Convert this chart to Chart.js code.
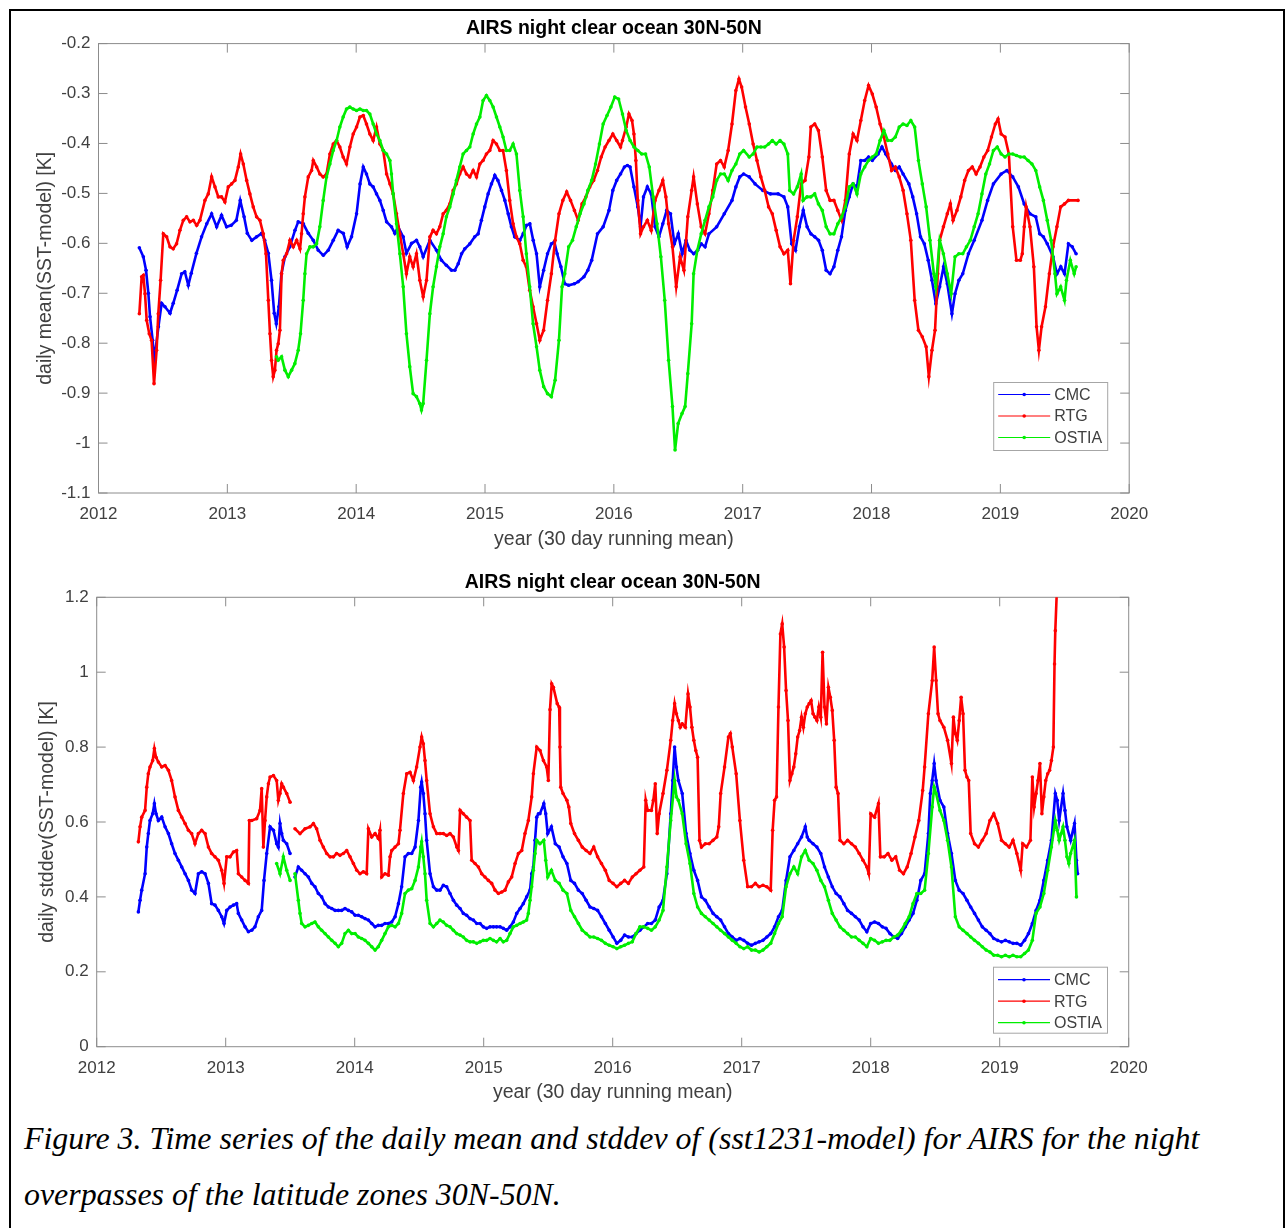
<!DOCTYPE html>
<html lang="en">
<head>
<meta charset="UTF-8">
<title>AIRS night clear ocean 30N-50N</title>
<script src="https://cdn.jsdelivr.net/npm/chart.js"></script>
<style>
  body { margin: 0; background: #fff; width: 1285px; height: 1228px; overflow: hidden; position: relative; }
  .frame { position: absolute; left: 9px; top: 9px; width: 1276px; height: 1300px; border: 2px solid #000; box-sizing: border-box; }
  canvas { position: absolute; left: 0; }
  #caption {
    position: absolute; left: 24px; top: 1111px;
    font-family: 'Liberation Serif', 'Times New Roman', serif; font-style: italic;
    font-size: 31.9px; line-height: 56px; color: #000; white-space: nowrap;
  }
</style>
</head>
<body>
<div class="frame"></div>
<canvas id="meanChart" width="1285" height="556" style="top:0"></canvas>
<canvas id="stdChart" width="1285" height="552" style="top:556px"></canvas>
<div id="caption">Figure 3. Time series of the daily mean and stddev of (sst1231-model) for AIRS for the night<br>overpasses of the latitude zones 30N-50N.</div>

<script>
// tick values
const yearTicks = [2012, 2013, 2014, 2015, 2016, 2017, 2018, 2019, 2020];
const meanTicks = [-1.1, -1, -0.9, -0.8, -0.7, -0.6, -0.5, -0.4, -0.3, -0.2];
const stdTicks = [0, 0.2, 0.4, 0.6, 0.8, 1, 1.2];

// daily mean (SST-model), [year, K]
const meanCmc = [[2012.317,-0.609],[2012.348,-0.627],[2012.369,-0.654],[2012.387,-0.70],[2012.40,-0.747],[2012.42,-0.794],[2012.433,-0.834],[2012.465,-0.767],[2012.49,-0.72],[2012.516,-0.727],[2012.555,-0.74],[2012.58,-0.72],[2012.61,-0.694],[2012.645,-0.661],[2012.67,-0.657],[2012.697,-0.684],[2012.72,-0.66],[2012.76,-0.62],[2012.80,-0.587],[2012.84,-0.561],[2012.878,-0.541],[2012.917,-0.567],[2012.955,-0.544],[2012.994,-0.567],[2013.03,-0.564],[2013.07,-0.554],[2013.10,-0.514],[2013.13,-0.547],[2013.155,-0.58],[2013.19,-0.594],[2013.227,-0.587],[2013.266,-0.58],[2013.29,-0.594],[2013.318,-0.62],[2013.343,-0.674],[2013.364,-0.74],[2013.38,-0.761],[2013.40,-0.727],[2013.42,-0.661],[2013.447,-0.627],[2013.485,-0.607],[2013.525,-0.574],[2013.55,-0.557],[2013.59,-0.561],[2013.628,-0.58],[2013.667,-0.594],[2013.706,-0.614],[2013.745,-0.624],[2013.783,-0.614],[2013.822,-0.594],[2013.86,-0.574],[2013.90,-0.58],[2013.93,-0.607],[2013.964,-0.587],[2014.003,-0.541],[2014.03,-0.481],[2014.055,-0.447],[2014.08,-0.461],[2014.106,-0.481],[2014.132,-0.487],[2014.158,-0.501],[2014.184,-0.514],[2014.21,-0.534],[2014.236,-0.557],[2014.274,-0.567],[2014.30,-0.58],[2014.326,-0.567],[2014.365,-0.587],[2014.39,-0.62],[2014.43,-0.60],[2014.468,-0.594],[2014.494,-0.607],[2014.52,-0.627],[2014.572,-0.594],[2014.624,-0.614],[2014.662,-0.634],[2014.70,-0.644],[2014.74,-0.654],[2014.766,-0.654],[2014.792,-0.641],[2014.818,-0.621],[2014.843,-0.611],[2014.882,-0.601],[2014.92,-0.587],[2014.947,-0.581],[2014.972,-0.554],[2014.998,-0.527],[2015.024,-0.501],[2015.05,-0.481],[2015.076,-0.464],[2015.10,-0.474],[2015.128,-0.494],[2015.154,-0.514],[2015.18,-0.541],[2015.205,-0.567],[2015.23,-0.587],[2015.27,-0.594],[2015.296,-0.581],[2015.322,-0.564],[2015.348,-0.561],[2015.374,-0.594],[2015.40,-0.621],[2015.425,-0.687],[2015.455,-0.654],[2015.485,-0.621],[2015.515,-0.601],[2015.538,-0.597],[2015.56,-0.621],[2015.589,-0.647],[2015.619,-0.681],[2015.649,-0.684],[2015.694,-0.681],[2015.723,-0.677],[2015.768,-0.667],[2015.798,-0.654],[2015.828,-0.634],[2015.873,-0.581],[2015.917,-0.567],[2015.962,-0.534],[2015.992,-0.494],[2016.022,-0.474],[2016.052,-0.461],[2016.082,-0.447],[2016.105,-0.444],[2016.126,-0.447],[2016.156,-0.487],[2016.186,-0.527],[2016.207,-0.567],[2016.23,-0.507],[2016.26,-0.487],[2016.29,-0.501],[2016.32,-0.567],[2016.35,-0.587],[2016.38,-0.561],[2016.41,-0.534],[2016.44,-0.541],[2016.47,-0.601],[2016.50,-0.581],[2016.53,-0.621],[2016.56,-0.594],[2016.59,-0.614],[2016.62,-0.621],[2016.65,-0.614],[2016.678,-0.601],[2016.708,-0.607],[2016.738,-0.581],[2016.798,-0.567],[2016.857,-0.541],[2016.917,-0.514],[2016.947,-0.487],[2016.977,-0.467],[2017.007,-0.461],[2017.051,-0.467],[2017.096,-0.481],[2017.156,-0.494],[2017.215,-0.501],[2017.275,-0.501],[2017.32,-0.507],[2017.35,-0.527],[2017.38,-0.601],[2017.41,-0.614],[2017.44,-0.567],[2017.47,-0.534],[2017.50,-0.567],[2017.529,-0.581],[2017.559,-0.587],[2017.589,-0.594],[2017.618,-0.614],[2017.648,-0.654],[2017.678,-0.661],[2017.708,-0.647],[2017.738,-0.614],[2017.767,-0.587],[2017.797,-0.534],[2017.827,-0.507],[2017.857,-0.481],[2017.887,-0.487],[2017.917,-0.434],[2017.947,-0.434],[2017.977,-0.427],[2018.006,-0.434],[2018.051,-0.421],[2018.081,-0.407],[2018.11,-0.421],[2018.155,-0.441],[2018.185,-0.454],[2018.215,-0.447],[2018.245,-0.461],[2018.29,-0.481],[2018.32,-0.507],[2018.35,-0.541],[2018.38,-0.587],[2018.41,-0.601],[2018.44,-0.634],[2018.469,-0.674],[2018.499,-0.721],[2018.529,-0.687],[2018.559,-0.647],[2018.588,-0.681],[2018.624,-0.741],[2018.648,-0.701],[2018.678,-0.674],[2018.708,-0.661],[2018.752,-0.621],[2018.797,-0.594],[2018.857,-0.554],[2018.901,-0.514],[2018.946,-0.481],[2019.006,-0.461],[2019.051,-0.454],[2019.096,-0.467],[2019.14,-0.487],[2019.185,-0.521],[2019.23,-0.541],[2019.275,-0.547],[2019.305,-0.581],[2019.334,-0.587],[2019.364,-0.601],[2019.409,-0.627],[2019.439,-0.661],[2019.469,-0.647],[2019.498,-0.661],[2019.528,-0.601],[2019.558,-0.607],[2019.588,-0.621]];

const meanRtg = [[2012.317,-0.741],[2012.335,-0.667],[2012.348,-0.664],[2012.361,-0.701],[2012.374,-0.754],[2012.394,-0.781],[2012.412,-0.794],[2012.431,-0.881],[2012.451,-0.814],[2012.464,-0.741],[2012.482,-0.674],[2012.503,-0.581],[2012.529,-0.587],[2012.555,-0.607],[2012.58,-0.611],[2012.606,-0.601],[2012.632,-0.574],[2012.658,-0.554],[2012.684,-0.547],[2012.71,-0.557],[2012.736,-0.554],[2012.762,-0.564],[2012.787,-0.554],[2012.826,-0.514],[2012.852,-0.501],[2012.878,-0.467],[2012.904,-0.487],[2012.93,-0.507],[2012.955,-0.507],[2012.981,-0.517],[2013.007,-0.487],[2013.033,-0.481],[2013.059,-0.474],[2013.085,-0.447],[2013.103,-0.421],[2013.124,-0.441],[2013.15,-0.474],[2013.175,-0.501],[2013.201,-0.527],[2013.227,-0.547],[2013.253,-0.554],[2013.279,-0.581],[2013.30,-0.621],[2013.318,-0.714],[2013.331,-0.781],[2013.343,-0.834],[2013.356,-0.867],[2013.369,-0.854],[2013.382,-0.814],[2013.395,-0.801],[2013.408,-0.774],[2013.421,-0.661],[2013.434,-0.634],[2013.46,-0.621],[2013.486,-0.594],[2013.512,-0.607],[2013.538,-0.594],[2013.564,-0.611],[2013.576,-0.581],[2013.589,-0.541],[2013.602,-0.507],[2013.628,-0.467],[2013.654,-0.454],[2013.667,-0.434],[2013.693,-0.447],[2013.718,-0.461],[2013.744,-0.467],[2013.77,-0.461],[2013.796,-0.421],[2013.822,-0.401],[2013.848,-0.394],[2013.873,-0.407],[2013.899,-0.427],[2013.925,-0.441],[2013.951,-0.407],[2013.977,-0.381],[2014.003,-0.367],[2014.029,-0.347],[2014.055,-0.344],[2014.08,-0.361],[2014.106,-0.381],[2014.132,-0.394],[2014.158,-0.367],[2014.184,-0.401],[2014.21,-0.414],[2014.236,-0.461],[2014.262,-0.481],[2014.287,-0.501],[2014.313,-0.541],[2014.339,-0.581],[2014.365,-0.621],[2014.39,-0.661],[2014.416,-0.627],[2014.442,-0.647],[2014.468,-0.621],[2014.494,-0.674],[2014.52,-0.707],[2014.546,-0.674],[2014.572,-0.587],[2014.597,-0.574],[2014.623,-0.581],[2014.649,-0.567],[2014.675,-0.541],[2014.70,-0.534],[2014.727,-0.521],[2014.753,-0.494],[2014.778,-0.481],[2014.804,-0.461],[2014.83,-0.447],[2014.856,-0.461],[2014.882,-0.467],[2014.908,-0.454],[2014.934,-0.467],[2014.96,-0.441],[2014.985,-0.434],[2015.011,-0.421],[2015.037,-0.414],[2015.063,-0.394],[2015.089,-0.401],[2015.115,-0.414],[2015.14,-0.414],[2015.166,-0.454],[2015.192,-0.514],[2015.218,-0.561],[2015.244,-0.587],[2015.27,-0.601],[2015.296,-0.634],[2015.321,-0.647],[2015.347,-0.694],[2015.373,-0.727],[2015.40,-0.761],[2015.425,-0.794],[2015.455,-0.774],[2015.485,-0.714],[2015.515,-0.661],[2015.544,-0.594],[2015.574,-0.541],[2015.604,-0.514],[2015.634,-0.497],[2015.664,-0.514],[2015.694,-0.534],[2015.723,-0.554],[2015.753,-0.521],[2015.783,-0.507],[2015.813,-0.487],[2015.843,-0.474],[2015.873,-0.454],[2015.902,-0.427],[2015.932,-0.407],[2015.962,-0.394],[2015.992,-0.381],[2016.022,-0.394],[2016.052,-0.407],[2016.067,-0.394],[2016.096,-0.367],[2016.117,-0.341],[2016.141,-0.354],[2016.156,-0.381],[2016.171,-0.434],[2016.186,-0.514],[2016.207,-0.581],[2016.23,-0.567],[2016.26,-0.554],[2016.29,-0.574],[2016.32,-0.514],[2016.35,-0.494],[2016.38,-0.474],[2016.404,-0.507],[2016.425,-0.561],[2016.455,-0.607],[2016.484,-0.687],[2016.514,-0.627],[2016.544,-0.654],[2016.574,-0.547],[2016.604,-0.494],[2016.619,-0.467],[2016.648,-0.521],[2016.678,-0.567],[2016.708,-0.581],[2016.738,-0.541],[2016.768,-0.494],[2016.798,-0.441],[2016.828,-0.434],[2016.857,-0.447],[2016.887,-0.414],[2016.917,-0.361],[2016.947,-0.294],[2016.971,-0.271],[2016.992,-0.287],[2017.022,-0.327],[2017.051,-0.361],[2017.081,-0.401],[2017.111,-0.434],[2017.141,-0.467],[2017.171,-0.494],[2017.201,-0.527],[2017.23,-0.541],[2017.26,-0.574],[2017.29,-0.607],[2017.32,-0.621],[2017.35,-0.614],[2017.371,-0.681],[2017.395,-0.594],[2017.424,-0.547],[2017.454,-0.481],[2017.484,-0.474],[2017.514,-0.427],[2017.529,-0.367],[2017.559,-0.361],[2017.588,-0.374],[2017.618,-0.427],[2017.648,-0.494],[2017.678,-0.514],[2017.708,-0.514],[2017.738,-0.534],[2017.768,-0.554],[2017.797,-0.514],[2017.827,-0.421],[2017.857,-0.381],[2017.887,-0.394],[2017.917,-0.354],[2017.947,-0.314],[2017.977,-0.284],[2018.006,-0.301],[2018.036,-0.327],[2018.066,-0.361],[2018.096,-0.387],[2018.126,-0.421],[2018.156,-0.454],[2018.185,-0.447],[2018.215,-0.467],[2018.245,-0.494],[2018.275,-0.541],[2018.305,-0.594],[2018.335,-0.714],[2018.364,-0.774],[2018.394,-0.787],[2018.424,-0.807],[2018.445,-0.867],[2018.469,-0.814],[2018.493,-0.774],[2018.514,-0.661],[2018.529,-0.594],[2018.558,-0.567],[2018.588,-0.541],[2018.612,-0.521],[2018.633,-0.554],[2018.663,-0.534],[2018.693,-0.507],[2018.723,-0.474],[2018.752,-0.454],[2018.782,-0.447],[2018.812,-0.461],[2018.842,-0.447],[2018.872,-0.427],[2018.902,-0.414],[2018.931,-0.387],[2018.961,-0.361],[2018.982,-0.351],[2019.006,-0.381],[2019.036,-0.387],[2019.066,-0.421],[2019.096,-0.567],[2019.125,-0.634],[2019.155,-0.634],[2019.17,-0.621],[2019.185,-0.567],[2019.20,-0.527],[2019.23,-0.567],[2019.26,-0.647],[2019.281,-0.767],[2019.299,-0.814],[2019.32,-0.767],[2019.35,-0.727],[2019.38,-0.661],[2019.409,-0.607],[2019.439,-0.567],[2019.468,-0.527],[2019.498,-0.521],[2019.528,-0.514],[2019.603,-0.514]];

const meanOstia = [[2013.382,-0.827],[2013.395,-0.834],[2013.421,-0.827],[2013.447,-0.854],[2013.473,-0.867],[2013.499,-0.854],[2013.524,-0.841],[2013.55,-0.814],[2013.568,-0.781],[2013.589,-0.714],[2013.602,-0.661],[2013.615,-0.621],[2013.641,-0.607],[2013.667,-0.607],[2013.693,-0.601],[2013.718,-0.567],[2013.744,-0.514],[2013.77,-0.467],[2013.796,-0.441],[2013.822,-0.414],[2013.848,-0.394],[2013.873,-0.367],[2013.899,-0.347],[2013.925,-0.331],[2013.951,-0.327],[2013.977,-0.331],[2014.003,-0.334],[2014.029,-0.331],[2014.055,-0.334],[2014.08,-0.334],[2014.106,-0.341],[2014.132,-0.361],[2014.158,-0.381],[2014.184,-0.394],[2014.21,-0.414],[2014.236,-0.421],[2014.262,-0.434],[2014.274,-0.461],[2014.287,-0.501],[2014.313,-0.561],[2014.339,-0.621],[2014.365,-0.687],[2014.39,-0.781],[2014.416,-0.847],[2014.442,-0.901],[2014.468,-0.907],[2014.494,-0.921],[2014.507,-0.934],[2014.52,-0.921],[2014.546,-0.834],[2014.572,-0.741],[2014.597,-0.687],[2014.623,-0.647],[2014.649,-0.607],[2014.675,-0.581],[2014.70,-0.547],[2014.727,-0.527],[2014.753,-0.501],[2014.778,-0.474],[2014.804,-0.447],[2014.83,-0.421],[2014.856,-0.414],[2014.882,-0.407],[2014.908,-0.381],[2014.934,-0.361],[2014.96,-0.347],[2014.985,-0.314],[2015.011,-0.304],[2015.037,-0.314],[2015.063,-0.327],[2015.089,-0.347],[2015.115,-0.367],[2015.14,-0.387],[2015.166,-0.414],[2015.192,-0.414],[2015.218,-0.401],[2015.244,-0.421],[2015.27,-0.494],[2015.296,-0.547],[2015.321,-0.621],[2015.347,-0.687],[2015.373,-0.761],[2015.40,-0.807],[2015.425,-0.854],[2015.455,-0.887],[2015.485,-0.901],[2015.515,-0.907],[2015.544,-0.874],[2015.574,-0.794],[2015.598,-0.687],[2015.619,-0.661],[2015.649,-0.607],[2015.679,-0.594],[2015.708,-0.567],[2015.738,-0.541],[2015.768,-0.521],[2015.798,-0.494],[2015.828,-0.474],[2015.858,-0.441],[2015.888,-0.401],[2015.917,-0.361],[2015.947,-0.344],[2015.977,-0.327],[2016.007,-0.307],[2016.037,-0.311],[2016.067,-0.341],[2016.096,-0.374],[2016.126,-0.394],[2016.156,-0.407],[2016.186,-0.414],[2016.216,-0.421],[2016.246,-0.421],[2016.275,-0.447],[2016.305,-0.507],[2016.335,-0.561],[2016.365,-0.627],[2016.395,-0.714],[2016.425,-0.834],[2016.455,-0.927],[2016.475,-1.014],[2016.499,-0.961],[2016.529,-0.941],[2016.553,-0.927],[2016.574,-0.861],[2016.604,-0.761],[2016.619,-0.661],[2016.648,-0.614],[2016.678,-0.581],[2016.708,-0.554],[2016.738,-0.527],[2016.768,-0.507],[2016.798,-0.474],[2016.828,-0.461],[2016.857,-0.461],[2016.887,-0.474],[2016.917,-0.454],[2016.947,-0.441],[2016.977,-0.421],[2017.007,-0.414],[2017.051,-0.427],[2017.081,-0.421],[2017.111,-0.407],[2017.141,-0.407],[2017.171,-0.407],[2017.201,-0.401],[2017.23,-0.394],[2017.26,-0.401],[2017.29,-0.394],[2017.32,-0.401],[2017.35,-0.421],[2017.365,-0.494],[2017.395,-0.501],[2017.424,-0.487],[2017.454,-0.461],[2017.469,-0.514],[2017.499,-0.507],[2017.529,-0.507],[2017.559,-0.501],[2017.588,-0.521],[2017.618,-0.534],[2017.648,-0.567],[2017.678,-0.581],[2017.708,-0.581],[2017.738,-0.561],[2017.768,-0.547],[2017.797,-0.527],[2017.827,-0.487],[2017.857,-0.481],[2017.887,-0.501],[2017.917,-0.461],[2017.947,-0.447],[2017.977,-0.434],[2018.006,-0.427],[2018.036,-0.421],[2018.066,-0.394],[2018.096,-0.374],[2018.126,-0.394],[2018.156,-0.394],[2018.185,-0.387],[2018.215,-0.367],[2018.245,-0.361],[2018.275,-0.364],[2018.305,-0.354],[2018.335,-0.367],[2018.364,-0.434],[2018.394,-0.481],[2018.424,-0.527],[2018.454,-0.594],[2018.484,-0.661],[2018.499,-0.687],[2018.529,-0.594],[2018.558,-0.621],[2018.588,-0.661],[2018.618,-0.701],[2018.648,-0.627],[2018.678,-0.621],[2018.708,-0.621],[2018.737,-0.607],[2018.767,-0.594],[2018.797,-0.567],[2018.827,-0.541],[2018.857,-0.501],[2018.887,-0.461],[2018.916,-0.441],[2018.946,-0.414],[2018.976,-0.407],[2019.006,-0.421],[2019.036,-0.427],[2019.066,-0.421],[2019.096,-0.421],[2019.125,-0.424],[2019.155,-0.427],[2019.185,-0.427],[2019.215,-0.434],[2019.245,-0.441],[2019.275,-0.454],[2019.305,-0.487],[2019.334,-0.514],[2019.364,-0.554],[2019.394,-0.594],[2019.424,-0.661],[2019.439,-0.701],[2019.468,-0.687],[2019.498,-0.714],[2019.513,-0.674],[2019.543,-0.634],[2019.573,-0.661],[2019.588,-0.647]];

// daily stddev (SST-model), [year, K]; null marks the data gap
const stdCmc = [[2012.323,0.36],[2012.336,0.391],[2012.349,0.418],[2012.375,0.462],[2012.388,0.533],[2012.40,0.569],[2012.413,0.604],[2012.434,0.622],[2012.447,0.649],[2012.46,0.622],[2012.478,0.604],[2012.504,0.613],[2012.53,0.587],[2012.556,0.569],[2012.581,0.542],[2012.607,0.516],[2012.633,0.498],[2012.659,0.48],[2012.685,0.462],[2012.711,0.444],[2012.736,0.418],[2012.762,0.409],[2012.788,0.462],[2012.814,0.467],[2012.84,0.462],[2012.866,0.436],[2012.891,0.382],[2012.917,0.378],[2012.943,0.364],[2012.969,0.347],[2012.987,0.329],[2013.008,0.364],[2013.034,0.373],[2013.06,0.378],[2013.085,0.382],[2013.098,0.356],[2013.124,0.338],[2013.15,0.32],[2013.176,0.307],[2013.202,0.311],[2013.227,0.32],[2013.253,0.347],[2013.279,0.364],[2013.297,0.444],[2013.318,0.516],[2013.344,0.587],[2013.37,0.578],[2013.395,0.542],[2013.408,0.533],[2013.421,0.596],[2013.434,0.569],[2013.447,0.551],[2013.473,0.542],[2013.499,0.516],[2013.518,null],[2013.537,0.453],[2013.563,0.48],[2013.589,0.471],[2013.615,0.462],[2013.641,0.453],[2013.667,0.436],[2013.692,0.427],[2013.718,0.409],[2013.744,0.40],[2013.77,0.382],[2013.796,0.373],[2013.822,0.369],[2013.848,0.364],[2013.873,0.364],[2013.899,0.364],[2013.925,0.369],[2013.951,0.364],[2013.977,0.36],[2014.003,0.351],[2014.028,0.351],[2014.054,0.347],[2014.08,0.342],[2014.106,0.338],[2014.132,0.329],[2014.158,0.32],[2014.183,0.324],[2014.209,0.324],[2014.235,0.329],[2014.261,0.329],[2014.287,0.333],[2014.313,0.347],[2014.339,0.382],[2014.364,0.427],[2014.39,0.507],[2014.416,0.516],[2014.442,0.516],[2014.468,0.533],[2014.494,0.604],[2014.512,0.693],[2014.519,0.707],[2014.532,0.676],[2014.545,0.622],[2014.558,0.551],[2014.584,0.462],[2014.61,0.427],[2014.636,0.418],[2014.661,0.418],[2014.687,0.431],[2014.713,0.427],[2014.739,0.409],[2014.765,0.391],[2014.791,0.378],[2014.817,0.369],[2014.842,0.356],[2014.868,0.351],[2014.894,0.342],[2014.92,0.338],[2014.946,0.329],[2014.972,0.329],[2014.997,0.32],[2015.023,0.316],[2015.049,0.32],[2015.075,0.32],[2015.10,0.32],[2015.127,0.32],[2015.152,0.316],[2015.178,0.311],[2015.204,0.32],[2015.23,0.333],[2015.256,0.356],[2015.282,0.369],[2015.307,0.382],[2015.333,0.40],[2015.359,0.418],[2015.372,0.462],[2015.385,0.48],[2015.398,0.551],[2015.411,0.613],[2015.424,0.622],[2015.436,0.622],[2015.466,0.649],[2015.481,0.622],[2015.496,0.569],[2015.525,0.587],[2015.555,0.542],[2015.585,0.533],[2015.615,0.507],[2015.645,0.489],[2015.675,0.444],[2015.704,0.436],[2015.734,0.418],[2015.764,0.409],[2015.794,0.391],[2015.824,0.373],[2015.853,0.369],[2015.883,0.364],[2015.913,0.347],[2015.943,0.329],[2015.973,0.311],[2016.003,0.293],[2016.032,0.276],[2016.062,0.284],[2016.092,0.298],[2016.122,0.293],[2016.152,0.293],[2016.181,0.302],[2016.211,0.311],[2016.241,0.32],[2016.271,0.329],[2016.30,0.329],[2016.33,0.338],[2016.36,0.373],[2016.39,0.391],[2016.42,0.462],[2016.45,0.622],[2016.465,0.711],[2016.48,0.80],[2016.494,0.747],[2016.509,0.711],[2016.539,0.676],[2016.569,0.569],[2016.599,0.516],[2016.629,0.471],[2016.658,0.444],[2016.688,0.40],[2016.718,0.391],[2016.748,0.373],[2016.778,0.356],[2016.807,0.347],[2016.837,0.338],[2016.867,0.32],[2016.897,0.302],[2016.927,0.293],[2016.957,0.284],[2016.986,0.289],[2017.016,0.284],[2017.046,0.276],[2017.076,0.271],[2017.106,0.276],[2017.135,0.28],[2017.165,0.284],[2017.195,0.293],[2017.225,0.302],[2017.255,0.32],[2017.285,0.347],[2017.314,0.364],[2017.344,0.444],[2017.374,0.507],[2017.404,0.524],[2017.434,0.542],[2017.464,0.56],[2017.493,0.587],[2017.508,0.56],[2017.523,0.551],[2017.553,0.542],[2017.583,0.533],[2017.613,0.516],[2017.642,0.48],[2017.672,0.453],[2017.702,0.427],[2017.732,0.409],[2017.762,0.40],[2017.792,0.382],[2017.821,0.364],[2017.851,0.356],[2017.881,0.347],[2017.911,0.338],[2017.94,0.32],[2017.97,0.307],[2018.0,0.329],[2018.03,0.333],[2018.06,0.329],[2018.09,0.32],[2018.119,0.316],[2018.149,0.302],[2018.179,0.293],[2018.209,0.289],[2018.239,0.302],[2018.268,0.32],[2018.298,0.338],[2018.328,0.356],[2018.358,0.391],[2018.388,0.444],[2018.418,0.462],[2018.447,0.569],[2018.462,0.676],[2018.477,0.711],[2018.492,0.756],[2018.507,0.711],[2018.537,0.658],[2018.567,0.64],[2018.596,0.569],[2018.626,0.516],[2018.656,0.444],[2018.686,0.418],[2018.716,0.409],[2018.746,0.391],[2018.775,0.373],[2018.805,0.356],[2018.835,0.338],[2018.865,0.32],[2018.895,0.311],[2018.924,0.302],[2018.954,0.289],[2018.984,0.284],[2019.014,0.28],[2019.044,0.284],[2019.074,0.28],[2019.103,0.276],[2019.133,0.276],[2019.163,0.271],[2019.193,0.284],[2019.223,0.302],[2019.253,0.329],[2019.282,0.364],[2019.312,0.391],[2019.342,0.444],[2019.372,0.498],[2019.401,0.551],[2019.431,0.676],[2019.446,0.658],[2019.461,0.604],[2019.491,0.676],[2019.506,0.631],[2019.521,0.587],[2019.55,0.551],[2019.58,0.596],[2019.595,0.498],[2019.604,0.462]];

const stdRtg = [[2012.323,0.547],[2012.336,0.587],[2012.349,0.613],[2012.375,0.631],[2012.388,0.693],[2012.40,0.729],[2012.413,0.747],[2012.434,0.764],[2012.447,0.796],[2012.46,0.773],[2012.478,0.76],[2012.504,0.747],[2012.53,0.751],[2012.556,0.738],[2012.581,0.711],[2012.607,0.667],[2012.633,0.631],[2012.659,0.613],[2012.685,0.596],[2012.711,0.578],[2012.736,0.569],[2012.762,0.542],[2012.788,0.569],[2012.814,0.578],[2012.84,0.569],[2012.866,0.533],[2012.891,0.516],[2012.917,0.507],[2012.943,0.498],[2012.969,0.471],[2012.987,0.436],[2013.008,0.507],[2013.034,0.507],[2013.06,0.52],[2013.085,0.524],[2013.098,0.462],[2013.124,0.453],[2013.15,0.444],[2013.176,0.436],[2013.183,0.604],[2013.202,0.604],[2013.24,0.609],[2013.266,0.631],[2013.279,0.689],[2013.292,0.533],[2013.305,0.604],[2013.318,0.667],[2013.331,0.702],[2013.344,0.72],[2013.37,0.724],[2013.395,0.711],[2013.408,0.658],[2013.421,0.676],[2013.434,0.702],[2013.447,0.693],[2013.473,0.676],[2013.499,0.653],[2013.518,null],[2013.537,0.582],[2013.576,0.569],[2013.615,0.582],[2013.654,0.587],[2013.68,0.596],[2013.705,0.582],[2013.731,0.551],[2013.757,0.533],[2013.783,0.516],[2013.809,0.507],[2013.835,0.507],[2013.86,0.516],[2013.886,0.511],[2013.912,0.516],[2013.938,0.524],[2013.964,0.507],[2013.99,0.489],[2014.016,0.471],[2014.041,0.462],[2014.067,0.467],[2014.093,0.462],[2014.106,0.582],[2014.132,0.56],[2014.158,0.569],[2014.183,0.556],[2014.196,0.578],[2014.209,0.453],[2014.235,0.462],[2014.261,0.458],[2014.274,0.507],[2014.287,0.524],[2014.313,0.533],[2014.339,0.542],[2014.351,0.578],[2014.377,0.676],[2014.403,0.729],[2014.429,0.733],[2014.455,0.711],[2014.48,0.747],[2014.506,0.80],[2014.519,0.827],[2014.532,0.809],[2014.545,0.764],[2014.558,0.711],[2014.584,0.622],[2014.61,0.587],[2014.636,0.569],[2014.661,0.569],[2014.687,0.569],[2014.713,0.564],[2014.739,0.569],[2014.765,0.56],[2014.791,0.533],[2014.804,0.524],[2014.817,0.631],[2014.842,0.622],[2014.868,0.613],[2014.894,0.604],[2014.907,0.498],[2014.933,0.489],[2014.959,0.48],[2014.984,0.462],[2015.01,0.453],[2015.036,0.444],[2015.062,0.436],[2015.088,0.418],[2015.114,0.409],[2015.14,0.413],[2015.165,0.418],[2015.191,0.44],[2015.217,0.453],[2015.243,0.489],[2015.269,0.516],[2015.295,0.524],[2015.32,0.569],[2015.346,0.604],[2015.372,0.667],[2015.385,0.729],[2015.411,0.80],[2015.437,0.791],[2015.463,0.764],[2015.488,0.747],[2015.501,0.711],[2015.514,0.90],[2015.527,0.969],[2015.54,0.96],[2015.57,0.916],[2015.585,0.907],[2015.591,0.80],[2015.597,0.693],[2015.615,0.676],[2015.645,0.658],[2015.66,0.64],[2015.675,0.596],[2015.704,0.569],[2015.734,0.551],[2015.764,0.533],[2015.794,0.524],[2015.824,0.516],[2015.853,0.533],[2015.883,0.507],[2015.913,0.489],[2015.943,0.471],[2015.973,0.444],[2016.003,0.436],[2016.032,0.427],[2016.062,0.436],[2016.092,0.444],[2016.122,0.436],[2016.152,0.453],[2016.181,0.462],[2016.211,0.471],[2016.241,0.48],[2016.256,0.658],[2016.271,0.631],[2016.30,0.631],[2016.315,0.658],[2016.33,0.702],[2016.345,0.569],[2016.36,0.622],[2016.39,0.676],[2016.42,0.738],[2016.45,0.818],[2016.465,0.871],[2016.48,0.916],[2016.494,0.889],[2016.509,0.871],[2016.524,0.853],[2016.539,0.862],[2016.563,0.853],[2016.584,0.942],[2016.599,0.907],[2016.614,0.853],[2016.629,0.818],[2016.644,0.791],[2016.658,0.773],[2016.673,0.551],[2016.688,0.533],[2016.718,0.542],[2016.748,0.542],[2016.778,0.551],[2016.807,0.56],[2016.822,0.587],[2016.837,0.676],[2016.867,0.747],[2016.897,0.827],[2016.912,0.836],[2016.927,0.80],[2016.957,0.729],[2016.986,0.604],[2017.016,0.498],[2017.046,0.427],[2017.076,0.427],[2017.106,0.436],[2017.135,0.427],[2017.165,0.431],[2017.195,0.427],[2017.225,0.418],[2017.24,0.578],[2017.255,0.658],[2017.27,0.667],[2017.285,0.907],[2017.30,1.102],[2017.314,1.129],[2017.329,1.067],[2017.344,0.951],[2017.359,0.871],[2017.374,0.711],[2017.389,0.729],[2017.404,0.747],[2017.419,0.782],[2017.434,0.827],[2017.449,0.844],[2017.464,0.88],[2017.478,0.853],[2017.493,0.889],[2017.508,0.907],[2017.523,0.916],[2017.538,0.924],[2017.553,0.889],[2017.568,0.88],[2017.583,0.871],[2017.598,0.907],[2017.613,0.88],[2017.627,1.053],[2017.642,0.907],[2017.657,0.862],[2017.672,0.96],[2017.687,0.933],[2017.702,0.898],[2017.717,0.818],[2017.732,0.693],[2017.747,0.676],[2017.762,0.551],[2017.792,0.542],[2017.821,0.551],[2017.851,0.542],[2017.881,0.533],[2017.911,0.516],[2017.94,0.498],[2017.97,0.48],[2017.985,0.462],[2018.0,0.622],[2018.03,0.613],[2018.06,0.649],[2018.075,0.507],[2018.105,0.507],[2018.134,0.516],[2018.164,0.498],[2018.194,0.507],[2018.224,0.471],[2018.254,0.462],[2018.283,0.48],[2018.313,0.516],[2018.343,0.56],[2018.373,0.604],[2018.403,0.684],[2018.418,0.747],[2018.447,0.889],[2018.477,0.978],[2018.492,1.067],[2018.507,0.978],[2018.522,0.889],[2018.537,0.871],[2018.567,0.853],[2018.596,0.818],[2018.626,0.756],[2018.641,0.88],[2018.656,0.836],[2018.671,0.818],[2018.686,0.871],[2018.701,0.933],[2018.716,0.889],[2018.731,0.738],[2018.746,0.72],[2018.76,0.711],[2018.775,0.569],[2018.805,0.542],[2018.835,0.533],[2018.865,0.551],[2018.895,0.569],[2018.924,0.604],[2018.954,0.622],[2018.984,0.596],[2019.014,0.551],[2019.044,0.542],[2019.074,0.533],[2019.103,0.551],[2019.133,0.516],[2019.163,0.471],[2019.178,0.542],[2019.208,0.533],[2019.238,0.551],[2019.253,0.72],[2019.267,0.64],[2019.282,0.676],[2019.297,0.711],[2019.312,0.756],[2019.327,0.622],[2019.342,0.667],[2019.357,0.711],[2019.372,0.729],[2019.387,0.738],[2019.401,0.764],[2019.416,0.80],[2019.425,1.022],[2019.431,1.111],[2019.446,1.244],[2019.46,1.35]];

const stdOstia = [[2013.395,0.489],[2013.421,0.462],[2013.447,0.507],[2013.473,0.471],[2013.499,0.444],[2013.518,null],[2013.537,0.462],[2013.563,0.391],[2013.576,0.356],[2013.589,0.329],[2013.615,0.32],[2013.641,0.324],[2013.667,0.329],[2013.692,0.333],[2013.718,0.32],[2013.744,0.311],[2013.77,0.302],[2013.796,0.293],[2013.822,0.284],[2013.848,0.276],[2013.873,0.267],[2013.899,0.276],[2013.925,0.302],[2013.951,0.311],[2013.977,0.302],[2014.003,0.302],[2014.028,0.293],[2014.054,0.289],[2014.08,0.284],[2014.106,0.276],[2014.132,0.267],[2014.158,0.258],[2014.183,0.267],[2014.209,0.284],[2014.235,0.302],[2014.261,0.32],[2014.287,0.324],[2014.313,0.32],[2014.339,0.329],[2014.364,0.356],[2014.39,0.409],[2014.416,0.418],[2014.442,0.422],[2014.468,0.444],[2014.494,0.48],[2014.512,0.533],[2014.519,0.547],[2014.532,0.507],[2014.545,0.462],[2014.558,0.391],[2014.584,0.329],[2014.61,0.32],[2014.636,0.329],[2014.661,0.338],[2014.687,0.333],[2014.713,0.324],[2014.739,0.32],[2014.765,0.311],[2014.791,0.302],[2014.817,0.298],[2014.842,0.293],[2014.868,0.284],[2014.894,0.28],[2014.92,0.28],[2014.946,0.276],[2014.972,0.28],[2014.997,0.284],[2015.023,0.284],[2015.049,0.289],[2015.075,0.284],[2015.10,0.28],[2015.127,0.289],[2015.152,0.28],[2015.178,0.284],[2015.204,0.302],[2015.23,0.32],[2015.256,0.324],[2015.282,0.329],[2015.307,0.333],[2015.333,0.338],[2015.346,0.356],[2015.359,0.391],[2015.372,0.427],[2015.385,0.471],[2015.398,0.516],[2015.411,0.551],[2015.436,0.542],[2015.466,0.551],[2015.481,0.498],[2015.496,0.453],[2015.525,0.471],[2015.555,0.444],[2015.585,0.436],[2015.615,0.418],[2015.645,0.409],[2015.675,0.364],[2015.704,0.347],[2015.734,0.329],[2015.764,0.311],[2015.794,0.302],[2015.824,0.293],[2015.853,0.293],[2015.883,0.289],[2015.913,0.284],[2015.943,0.276],[2015.973,0.271],[2016.003,0.267],[2016.032,0.262],[2016.062,0.267],[2016.092,0.271],[2016.122,0.276],[2016.152,0.28],[2016.181,0.302],[2016.211,0.32],[2016.241,0.32],[2016.271,0.316],[2016.30,0.311],[2016.33,0.32],[2016.36,0.338],[2016.39,0.364],[2016.42,0.48],[2016.45,0.604],[2016.48,0.711],[2016.494,0.667],[2016.509,0.658],[2016.539,0.622],[2016.569,0.542],[2016.599,0.489],[2016.629,0.409],[2016.658,0.373],[2016.688,0.356],[2016.718,0.347],[2016.748,0.338],[2016.778,0.329],[2016.807,0.32],[2016.837,0.311],[2016.867,0.302],[2016.897,0.293],[2016.927,0.284],[2016.957,0.276],[2016.986,0.267],[2017.016,0.262],[2017.046,0.267],[2017.076,0.258],[2017.106,0.258],[2017.135,0.253],[2017.165,0.258],[2017.195,0.267],[2017.225,0.276],[2017.255,0.302],[2017.285,0.329],[2017.314,0.347],[2017.344,0.427],[2017.374,0.462],[2017.404,0.48],[2017.434,0.462],[2017.464,0.507],[2017.493,0.524],[2017.523,0.498],[2017.553,0.489],[2017.583,0.471],[2017.613,0.444],[2017.642,0.427],[2017.672,0.391],[2017.702,0.356],[2017.732,0.338],[2017.762,0.32],[2017.792,0.311],[2017.821,0.302],[2017.851,0.293],[2017.881,0.293],[2017.911,0.284],[2017.94,0.276],[2017.97,0.267],[2018.0,0.289],[2018.03,0.284],[2018.06,0.276],[2018.09,0.28],[2018.119,0.284],[2018.149,0.284],[2018.179,0.293],[2018.209,0.298],[2018.239,0.311],[2018.268,0.329],[2018.298,0.347],[2018.328,0.382],[2018.358,0.409],[2018.388,0.409],[2018.418,0.418],[2018.447,0.516],[2018.477,0.64],[2018.492,0.693],[2018.507,0.676],[2018.537,0.631],[2018.567,0.604],[2018.596,0.551],[2018.626,0.48],[2018.656,0.347],[2018.686,0.32],[2018.716,0.311],[2018.746,0.302],[2018.775,0.293],[2018.805,0.284],[2018.835,0.276],[2018.865,0.267],[2018.895,0.258],[2018.924,0.253],[2018.954,0.244],[2018.984,0.244],[2019.014,0.24],[2019.044,0.244],[2019.074,0.24],[2019.103,0.244],[2019.133,0.24],[2019.163,0.24],[2019.193,0.249],[2019.223,0.258],[2019.253,0.284],[2019.282,0.356],[2019.312,0.373],[2019.342,0.409],[2019.372,0.471],[2019.401,0.533],[2019.431,0.604],[2019.446,0.578],[2019.461,0.551],[2019.476,0.569],[2019.491,0.587],[2019.506,0.551],[2019.521,0.507],[2019.536,0.489],[2019.55,0.516],[2019.58,0.551],[2019.595,0.40]];

const SANS = "'Liberation Sans', Arial, sans-serif";
const TEXT = '#404040';
const AXIS = '#8c8c8c';

function series(label, pts, color, order) {
  return {
    label: label,
    data: pts.map(p => ({ x: p[0], y: p[1] })),
    borderColor: color,
    backgroundColor: color,
    pointBackgroundColor: color,
    borderWidth: 2.6,
    pointRadius: 1.8,
    pointBorderWidth: 0,
    pointHoverRadius: 0,
    tension: 0,
    spanGaps: false,
    order: order
  };
}

// MATLAB-style box with inward ticks on all four sides
const boxPlugin = {
  id: 'box',
  beforeDatasetsDraw(chart) {
    const { ctx, chartArea: a, scales } = chart;
    const len = 9;
    ctx.save();
    ctx.strokeStyle = AXIS;
    ctx.lineWidth = 1;
    ctx.strokeRect(a.left, a.top, a.right - a.left, a.bottom - a.top);
    ctx.beginPath();
    scales.x.ticks.forEach(t => {
      const px = scales.x.getPixelForValue(t.value);
      ctx.moveTo(px, a.bottom); ctx.lineTo(px, a.bottom - len);
      ctx.moveTo(px, a.top); ctx.lineTo(px, a.top + len);
    });
    scales.y.ticks.forEach(t => {
      const py = scales.y.getPixelForValue(t.value);
      ctx.moveTo(a.left, py); ctx.lineTo(a.left + len, py);
      ctx.moveTo(a.right, py); ctx.lineTo(a.right - len, py);
    });
    ctx.stroke();
    ctx.restore();
  }
};

// legend box in the lower right corner of the axes
const cornerLegend = {
  id: 'cornerLegend',
  afterDraw(chart, args, opts) {
    const { ctx, chartArea: a } = chart;
    const x0 = a.right - opts.right, y0 = a.bottom - opts.bottom;
    const w = 114, h = opts.height;
    ctx.save();
    ctx.fillStyle = '#fff';
    ctx.fillRect(x0, y0, w, h);
    ctx.strokeStyle = '#a6a6a6';
    ctx.lineWidth = 1;
    ctx.strokeRect(x0 + 0.5, y0 + 0.5, w, h);
    ctx.font = '16px ' + SANS;
    ctx.textBaseline = 'middle';
    const rows = [opts.rowTop, opts.rowTop + opts.rowGap, opts.rowTop + 2 * opts.rowGap];
    // legend follows plotting order: CMC, RTG, OSTIA
    chart.data.datasets.forEach((ds, i) => {
      const yy = y0 + rows[i];
      ctx.strokeStyle = ds.borderColor;
      ctx.lineWidth = 1.2;
      ctx.beginPath();
      ctx.moveTo(x0 + 5, yy); ctx.lineTo(x0 + 57, yy);
      ctx.stroke();
      ctx.fillStyle = ds.borderColor;
      ctx.beginPath();
      ctx.arc(x0 + 31, yy, 1.8, 0, Math.PI * 2);
      ctx.fill();
      ctx.fillStyle = TEXT;
      ctx.fillText(ds.label, x0 + 61, yy + 1);
    });
    ctx.restore();
  }
};

function makeChart(id, cfg) {
  return new Chart(document.getElementById(id), {
    type: 'line',
    data: {
      datasets: [
        series('CMC', cfg.cmc, '#0000ff', 2),
        series('RTG', cfg.rtg, '#ff0000', 1),
        series('OSTIA', cfg.ostia, '#00ee00', 0)
      ]
    },
    options: {
      responsive: false,
      animation: false,
      events: [],
      layout: { padding: { left: 20, right: cfg.padRight, top: 0, bottom: 0 } },
      plugins: {
        legend: { display: false },
        tooltip: { enabled: false },
        title: {
          display: true,
          fullSize: false,
          text: 'AIRS night clear ocean 30N-50N',
          color: '#000',
          font: { family: SANS, size: 19.5, weight: 'bold' },
          padding: cfg.titlePad
        },
        cornerLegend: cfg.legend
      },
      scales: {
        x: {
          type: 'linear',
          min: 2012,
          max: 2020,
          afterBuildTicks: s => { s.ticks = yearTicks.map(v => ({ value: v })); },
          afterFit: s => { s.height = cfg.xHeight; },
          grid: { display: false, drawTicks: false },
          border: { display: false },
          ticks: {
            color: TEXT, padding: 11, maxRotation: 0, autoSkip: false,
            font: { family: SANS, size: 17 },
            callback: v => String(v)
          },
          title: {
            display: true, text: 'year (30 day running mean)', color: TEXT,
            font: { family: SANS, size: 19.5 },
            padding: { top: 0, bottom: cfg.xTitlePad }
          }
        },
        y: {
          type: 'linear',
          min: cfg.yMin,
          max: cfg.yMax,
          afterBuildTicks: s => { s.ticks = cfg.yTicks.map(v => ({ value: v })); },
          afterFit: s => { s.width = cfg.yWidth; },
          grid: { display: false, drawTicks: false },
          border: { display: false },
          ticks: {
            color: TEXT, padding: 8, autoSkip: false,
            font: { family: SANS, size: 17 },
            callback: v => String(Number(v.toFixed(1)))
          },
          title: {
            display: true, text: cfg.yTitle, color: TEXT,
            font: { family: SANS, size: 19.5 },
            padding: { top: cfg.yTitlePad, bottom: 0 }
          }
        }
      }
    },
    plugins: [boxPlugin, cornerLegend]
  });
}

makeChart('meanChart', {
  cmc: meanCmc, rtg: meanRtg, ostia: meanOstia,
  yMin: -1.1, yMax: -0.2, yTicks: meanTicks,
  yTitle: 'daily mean(SST-model) [K]',
  padRight: 155.8, yWidth: 78.5, xHeight: 63, xTitlePad: 4.3, yTitlePad: 13.5,
  titlePad: { top: 16.5, bottom: 3.7 },
  legend: { right: 136, bottom: 111, height: 68, rowTop: 12.5, rowGap: 21.5 }
});

makeChart('stdChart', {
  cmc: stdCmc, rtg: stdRtg, ostia: stdOstia,
  yMin: 0, yMax: 1.2, yTicks: stdTicks,
  yTitle: 'daily stddev(SST-model) [K]',
  padRight: 156.3, yWidth: 76.7, xHeight: 61.3, xTitlePad: 3.3, yTitlePad: 16,
  titlePad: { top: 15, bottom: 2.9 },
  legend: { right: 135.7, bottom: 80, height: 66, rowTop: 13, rowGap: 21.5 }
});
</script>
</body>
</html>
